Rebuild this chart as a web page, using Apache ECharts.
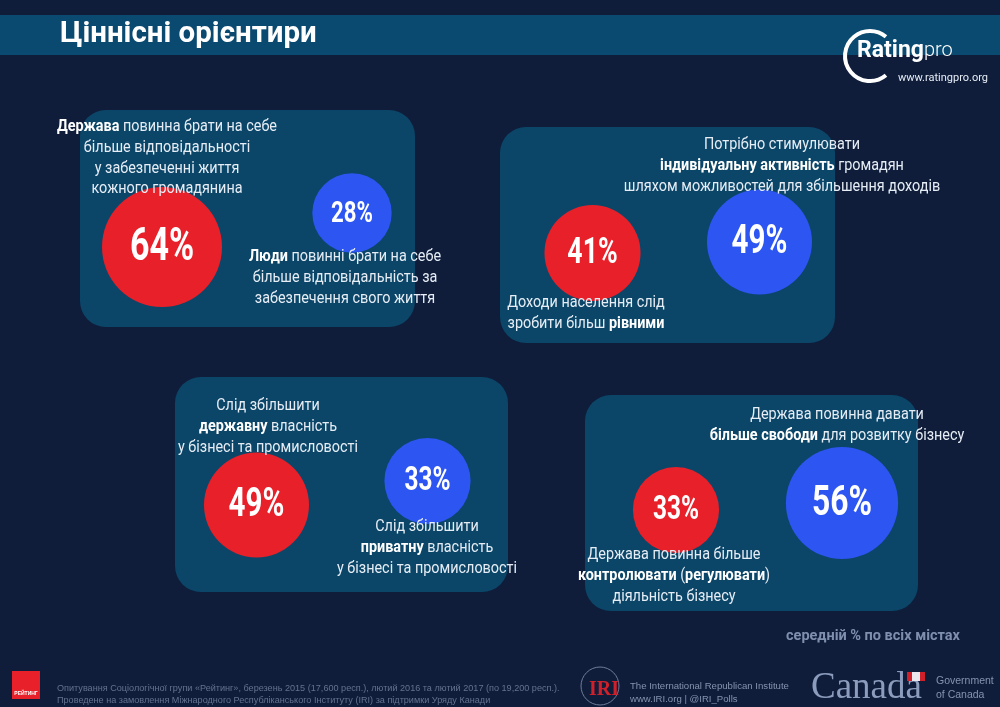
<!DOCTYPE html>
<html><head><meta charset="utf-8">
<script src="https://cdn.jsdelivr.net/npm/echarts@6/dist/echarts.min.js"></script>
<style>html,body{margin:0;padding:0;background:#0f1d3b;}#c{width:1000px;height:707px;}</style>
</head><body><div id="c"></div>
<script>
// ---- data ----
const topics = ['Відповідальність', 'Доходи', 'Власність', 'Бізнес'];
const redValues = [64, 41, 49, 33];   // red bubbles, %
const blueValues = [28, 49, 33, 56];  // blue bubbles, %
const sideNames = ['red', 'blue'];
const noteText = 'середній % по всіх містах';

// ---- layout / style (not data) ----
const BG = '#0f1d3b', BAND = '#0b4a70', PANEL = '#0b4668';
const RED = '#e8202a', BLUE = '#2c55f2';
const K = 7.5; // radius = K * sqrt(value)
const panels = [
  {box:[80,110,335,217], grid:{left:67,width:380,top:180,height:100}, off:[[0,17],[0,-17]]},
  {box:[500,127,335,216], grid:{left:509,width:334,top:198,height:100}, off:[[0,5],[0,-6]]},
  {box:[175,377,333,215], grid:{left:171,width:342,top:443,height:100}, off:[[0,12],[0,-12]]},
  {box:[585,395,333,216], grid:{left:593,width:332,top:456,height:100}, off:[[0,4],[0,-3]]}
];
const texts = [
  {x:167, y:127, lines:['{b|Держава} повинна брати на себе','більше відповідальності','у забезпеченні життя','кожного громадянина']},
  {x:345, y:257, lines:['{b|Люди} повинні брати на себе','більше відповідальність за','забезпечення свого життя']},
  {x:782, y:145, lines:['Потрібно стимулювати','{b|індивідуальну активність} громадян','шляхом можливостей для збільшення доходів']},
  {x:586, y:303, lines:['Доходи населення слід','зробити більш {b|рівними}']},
  {x:268, y:406, lines:['Слід збільшити','{b|державну} власність','у бізнесі та промисловості']},
  {x:427, y:527, lines:['Слід збільшити','{b|приватну} власність','у бізнесі та промисловості']},
  {x:837, y:415, lines:['Держава повинна давати','{b|більше свободи} для розвитку бізнесу']},
  {x:674, y:555, lines:['Держава повинна більше','{b|контролювати} ({b|регулювати})','діяльність бізнесу']}
];
const LH = 20.8;

const chart = echarts.init(document.getElementById('c'), null, {renderer:'canvas'});
const grids = [], xAxes = [], yAxes = [], series = [];
panels.forEach((p, i) => {
  grids.push(Object.assign({containLabel:false}, p.grid));
  xAxes.push({type:'category', gridIndex:i, data:sideNames, show:false});
  yAxes.push({type:'category', gridIndex:i, data:[topics[i]], show:false});
  const vals = [redValues[i], blueValues[i]];
  const cols = [RED, BLUE];
  series.push({
    type:'custom', xAxisIndex:i, yAxisIndex:i, z:3, silent:true, animation:false,
    data: vals.map((v, j) => [j, 0, v]),
    renderItem: (params, api) => {
      const j = params.dataIndex;
      const pt = api.coord([api.value(0), api.value(1)]);
      const v = api.value(2);
      const r = K * Math.sqrt(v);
      const cx = pt[0] + p.off[j][0], cy = pt[1] + p.off[j][1];
      return {type:'group', children:[
        {type:'circle', shape:{cx:cx, cy:cy, r:r}, style:{fill:cols[j]}},
        {type:'text', x:cx, y:cy + 1, scaleX:0.74, style:{
          text: v + '%', fill:'#fff', font:'bold ' + Math.round(r*0.76) + 'px Roboto, sans-serif',
          textAlign:'center', textVerticalAlign:'middle'}}
      ]};
    }
  });
});

const g = [];
g.push({type:'rect', shape:{x:0,y:15,width:1000,height:40}, style:{fill:BAND}, z:0});
g.push({type:'text', x:60, y:35, style:{text:'Ціннісні орієнтири', fill:'#fff', font:'bold 29.5px Roboto, sans-serif', textVerticalAlign:'middle'}, z:1});
panels.forEach(p => {
  g.push({type:'rect', shape:{x:p.box[0], y:p.box[1], width:p.box[2], height:p.box[3], r:26}, style:{fill:PANEL}, z:0});
});
texts.forEach(t => {
  t.lines.forEach((ln, k) => {
    g.push({type:'text', x:t.x, y:t.y + k*LH, scaleX:0.9, z:100, style:{
      text:ln, fill:'#e6edf5', fontFamily:'Roboto, sans-serif', fontSize:16,
      align:'center', verticalAlign:'middle',
      rich:{b:{fontWeight:'bold', fill:'#ffffff', fontFamily:'Roboto, sans-serif', fontSize:16}}
    }});
  });
});
// note
g.push({type:'text', x:960, y:636, style:{text:noteText, fill:'#7f8fae', font:'bold 14.5px Roboto, sans-serif', align:'right', verticalAlign:'middle'}});
// Rating pro logo
g.push({type:'arc', shape:{cx:870, cy:56, r:25, startAngle:Math.PI*0.28, endAngle:Math.PI*1.72, clockwise:true}, style:{stroke:'#fff', lineWidth:4, fill:null}});
g.push({type:'text', x:857, y:51, style:{text:'{b|Rating}{l|pro}', verticalAlign:'middle', rich:{
  b:{fill:'#fff', fontFamily:'Roboto, sans-serif', fontWeight:'bold', fontSize:23},
  l:{fill:'#fff', fontFamily:'Roboto, sans-serif', fontWeight:300, fontSize:20}}}});
g.push({type:'text', x:988, y:78, style:{text:'www.ratingpro.org', fill:'#e6edf5', font:'11px Roboto, sans-serif', align:'right', verticalAlign:'middle'}});
// footer
g.push({type:'rect', shape:{x:12,y:671,width:28,height:28}, style:{fill:RED}});
g.push({type:'text', x:26, y:694, style:{text:'РЕЙТИНГ', fill:'#fff', font:'bold 5px sans-serif', align:'center', verticalAlign:'middle'}});
g.push({type:'text', x:57, y:688, style:{text:'Опитування Соціологічної групи «Рейтинг», березень 2015 (17,600 респ.), лютий 2016 та лютий 2017 (по 19,200 респ.).', fill:'#64728f', font:'9.1px "Liberation Sans", Arial, sans-serif', verticalAlign:'middle'}});
g.push({type:'text', x:57, y:700, style:{text:'Проведене на замовлення Міжнародного Республіканського Інституту (IRI) за підтримки Уряду Канади', fill:'#64728f', font:'9.1px "Liberation Sans", Arial, sans-serif', verticalAlign:'middle'}});
g.push({type:'circle', shape:{cx:600, cy:686, r:19}, style:{stroke:'#6f7d99', lineWidth:1, fill:null}});
g.push({type:'text', x:604, y:690, style:{text:'IRI', fill:'#d0202a', font:'bold 20px "Liberation Serif", serif', align:'center', verticalAlign:'middle'}});
g.push({type:'text', x:630, y:686, style:{text:'The International Republican Institute', fill:'#8593ae', font:'9.6px "Liberation Sans", Arial, sans-serif', verticalAlign:'middle'}});
g.push({type:'text', x:630, y:699, style:{text:'www.IRI.org | @IRI_Polls', fill:'#8593ae', font:'9.6px "Liberation Sans", Arial, sans-serif', verticalAlign:'middle'}});
g.push({type:'text', x:811, y:688, style:{text:'Canada', fill:'#8c9cbc', font:'37px "Liberation Serif", serif', verticalAlign:'middle'}});
g.push({type:'rect', shape:{x:907,y:672,width:18,height:9}, style:{fill:'#d0202a'}});
g.push({type:'rect', shape:{x:912,y:672,width:8,height:9}, style:{fill:'#e8e8ee'}});
g.push({type:'text', x:936, y:681, style:{text:'Government', fill:'#8593ae', font:'10.5px "Liberation Sans", Arial, sans-serif', verticalAlign:'middle'}});
g.push({type:'text', x:936, y:695, style:{text:'of Canada', fill:'#8593ae', font:'10.5px "Liberation Sans", Arial, sans-serif', verticalAlign:'middle'}});

chart.setOption({
  backgroundColor: BG,
  animation:false,
  grid:grids, xAxis:xAxes, yAxis:yAxes, series:series,
  graphic:{elements:g}
});
</script></body></html>
